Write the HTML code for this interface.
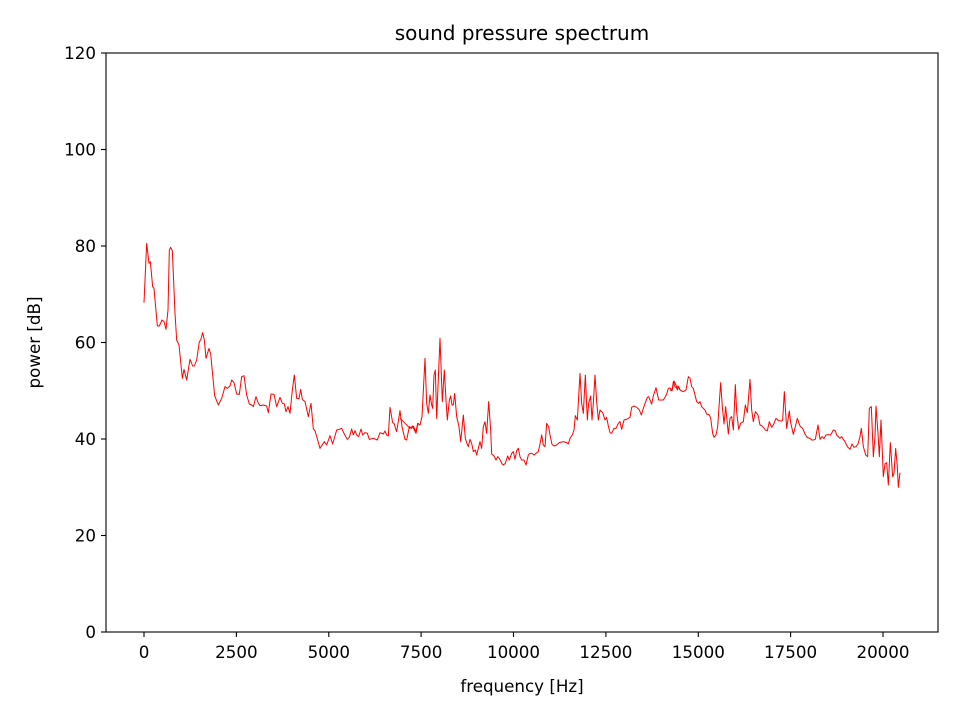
<!DOCTYPE html>
<html><head><meta charset="utf-8"><style>body{margin:0;background:#fff}svg{display:block}text{font-family:"DejaVu Sans","Liberation Sans",sans-serif;fill:#000}</style></head><body>
<svg width="960" height="720" viewBox="0 0 960 720" xmlns="http://www.w3.org/2000/svg">
<rect width="960" height="720" fill="#fff"/>
<g fill="none" stroke="#f00" stroke-width="1" stroke-linejoin="round">
<polyline vector-effect="non-scaling-stroke" transform="translate(140,230) scale(0.33333)" points="12,218 20,40 27,100 31,95 38,170 42,175 52,288 58,288 66,270 72,275 78,298 84,240 88,60 92,52 97,62 105,250 110,330 117,345 127,445 132,418 140,450 150,388 158,408 163,408 170,390 178,335 182,330 188,308 193,330 198,385 207,355 212,372 224,497 235,525 245,505 255,470 262,475 270,468 275,450 282,458 290,492 298,493 305,440 312,437 320,495 328,522 335,525 340,530 348,500 355,520 360,527 370,525 380,528 385,548 393,492 402,493 410,530 420,502 427,520 433,522 438,545 444,530 450,550 457,480 463,435 470,505 477,506 482,478 487,508 495,515 505,560 513,520 520,597 525,602 540,655 553,635 560,645 570,617 578,642 590,600 598,598 605,595 612,610 622,628 628,622 635,597 640,615 645,602 650,615 656,620 663,597 668,615 675,608 682,610 688,628 700,625 712,630 720,608 730,612 735,603 740,615 745,618 750,532 758,578 762,580 770,605 780,542 786,590 795,628 800,630 808,590 815,595 820,588 828,605 833,580 840,585"/>
<polyline vector-effect="non-scaling-stroke" transform="translate(410,320) scale(0.33333)" points="-30,295 0,325 8,318 12,328 18,340 24,310 30,315 36,290 45,115 50,250 55,280 60,225 65,255 68,265 72,165 76,150 80,295 84,200 90,55 97,245 103,150 108,240 112,300 118,240 122,228 126,255 130,255 134,220 140,290 147,320 152,365 160,285 166,355 170,368 175,380 180,358 185,370 190,395 196,390 200,405 205,385 210,365 215,385 220,320 225,305 230,340 236,245 242,330 245,402 252,408 258,420 263,410 268,415 275,430 280,435 286,430 293,408 298,420 305,400 310,395 315,418 320,392 325,385 330,410 335,420 342,420 348,435 355,405 360,400 366,400 372,405 378,400 385,395 390,372 395,345 400,375 405,380 410,310 416,320 420,345 426,373 432,378 440,375 448,368 460,365 470,368 475,372 480,355 487,345 492,330 496,287 502,300 510,160 515,250 520,280 526,165 532,300 536,250 542,228 546,300 550,250 555,165 560,245 565,300 570,270 578,278 585,300 590,292 595,318 600,338 605,340 612,325 618,325 625,310 630,305 635,328 642,300 650,298 660,292 665,262 672,258 680,262 688,270 694,285 700,265 706,248 712,232 716,230 720,240 725,252 730,228 738,203 746,240 752,240 760,240 765,232 770,222 775,205 780,204 786,212 792,183 798,195 802,210 806,200 810,210"/>
<polyline vector-effect="non-scaling-stroke" transform="translate(670,340) scale(0.33333)" points="0,150 6,152 10,125 15,140 20,145 24,138 30,150 40,155 48,150 55,110 60,115 65,140 70,145 75,165 80,185 86,190 90,185 95,200 100,205 105,210 110,222 118,225 122,235 128,280 132,292 138,285 143,260 152,128 157,200 162,252 167,200 175,282 180,235 185,230 190,270 196,134 200,215 206,268 212,250 220,245 226,195 232,218 240,118 245,210 250,245 256,215 264,225 270,255 276,258 280,262 286,270 292,272 298,245 305,262 310,255 318,235 325,242 335,243 338,240 343,155 350,265 358,213 362,248 370,283 376,260 382,235 390,258 398,265 405,282 412,293 420,295 425,300 430,300 436,298 444,255 450,298 456,290 462,296 468,285 476,284 482,285 490,270 496,272 500,285 505,290 510,295 515,290 520,298 525,305 532,320 540,328 546,312 552,322 558,320 564,312 570,290 574,265 580,320 587,345 593,350 598,205 604,200 610,350 615,290 618,198 624,280 628,350 633,240 640,410 645,372 650,368 655,435 661,308 668,410 672,400 677,325 682,380 685,442 690,398"/>
</g>
<rect x="106" y="53" width="832" height="579" fill="none" stroke="#000" stroke-width="1.1"/>
<g stroke="#000" stroke-width="1.1">
<line x1="144" y1="632" x2="144" y2="637"/><line x1="236.4" y1="632" x2="236.4" y2="637"/><line x1="328.8" y1="632" x2="328.8" y2="637"/><line x1="421.1" y1="632" x2="421.1" y2="637"/><line x1="513.5" y1="632" x2="513.5" y2="637"/><line x1="605.9" y1="632" x2="605.9" y2="637"/><line x1="698.3" y1="632" x2="698.3" y2="637"/><line x1="790.6" y1="632" x2="790.6" y2="637"/><line x1="883" y1="632" x2="883" y2="637"/>
<line x1="101" y1="632" x2="106" y2="632"/><line x1="101" y1="535.5" x2="106" y2="535.5"/><line x1="101" y1="439" x2="106" y2="439"/><line x1="101" y1="342.5" x2="106" y2="342.5"/><line x1="101" y1="246" x2="106" y2="246"/><line x1="101" y1="149.5" x2="106" y2="149.5"/><line x1="101" y1="53" x2="106" y2="53"/>
</g>
<g font-size="16.7" text-anchor="middle">
<text x="144" y="658">0</text><text x="236.4" y="658">2500</text><text x="328.8" y="658">5000</text><text x="421.1" y="658">7500</text><text x="513.5" y="658">10000</text><text x="605.9" y="658">12500</text><text x="698.3" y="658">15000</text><text x="790.6" y="658">17500</text><text x="883" y="658">20000</text>
</g>
<g font-size="16.7" text-anchor="end">
<text x="96" y="638">0</text><text x="96" y="541.5">20</text><text x="96" y="445">40</text><text x="96" y="348.5">60</text><text x="96" y="252">80</text><text x="96" y="155.5">100</text><text x="96" y="59">120</text>
</g>
<text x="522" y="692" font-size="16.7" text-anchor="middle">frequency [Hz]</text>
<text transform="translate(40,342.5) rotate(-90)" font-size="16.7" text-anchor="middle">power [dB]</text>
<text x="522" y="40" font-size="20" text-anchor="middle">sound pressure spectrum</text>
</svg>
</body></html>
